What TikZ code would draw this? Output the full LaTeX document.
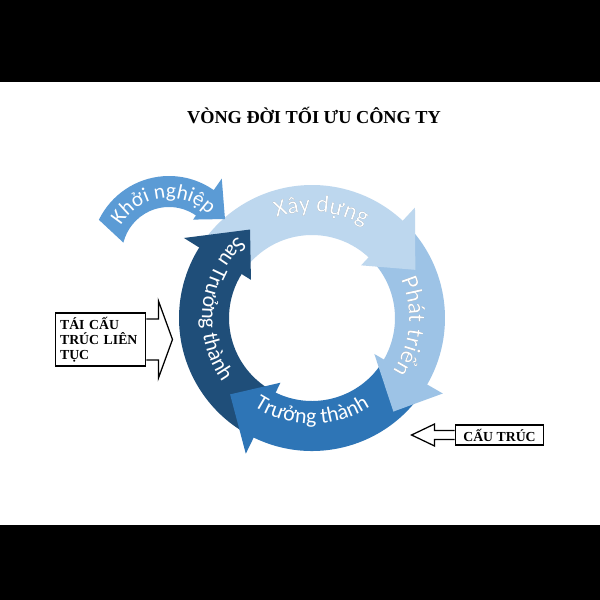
\documentclass[tikz,border=0pt]{standalone}
\usepackage{fontspec}
\setmainfont{Liberation Serif}
\newfontfamily\arcfont{Carlito}
\usetikzlibrary{calc,decorations.text}
\definecolor{cbuild}{HTML}{BDD7EE}
\definecolor{cgrow}{HTML}{9DC3E6}
\definecolor{cmature}{HTML}{2E75B6}
\definecolor{cpost}{HTML}{1F4E79}
\definecolor{cstart}{HTML}{5B9BD5}
\definecolor{rim}{HTML}{6F7F8F}
\tikzset{
  box/.style={draw=black, line width=0.9pt, fill=white, inner sep=0pt,
    font=\bfseries\fontsize{9.8}{10.6}\selectfont},
  barrow/.style={draw=black, line width=0.9pt, fill=white, line join=miter},
  arclbl/.style={decorate, decoration={text along path, text align=center,
    text={|\arcfont\fontsize{\arcsize}{\arcsize}\selectfont\color{#1}|\arctext}}}
}

\begin{document}
\begin{tikzpicture}[x=0.025cm, y=0.025cm]
  \fill[black] (0,0) rectangle (600,600);
  \fill[white] (0,75) rectangle (600,518);
  \coordinate (O) at (312,282);
  \coordinate (K) at (169,346);
  \def\Ro{133}
  \def\Ri{83}

  % ring bodies
  \foreach \c/\s/\b in {cbuild/147/46, cgrow/46/-31, cmature/-31/-117, cpost/-117/-213}
    \fill[fill=\c] ($(O)+(\s:\Ro)$) arc[start angle=\s, end angle=\b, radius=\Ro]
      -- ($(O)+(\b:\Ri)$) arc[start angle=\b, end angle=\s, radius=\Ri] -- cycle;
  % ring heads
  \foreach \c/\b/\t/\r in {cbuild/46/25/114, cgrow/-31/-49/124, cmature/-117/-137/112, cpost/-213/-235/108}
    \fill[fill=\c] ($(O)+(\b+1:151)$) -- ($(O)+(\t:\r)$) -- ($(O)+(\b+1:72)$) -- cycle;

  % start-up arrow
  \fill[cstart] ($(K)+(154:78)$) arc[start angle=154, end angle=55, radius=78]
    -- ($(K)+(55:92)$) -- ($(K)+(32:66)$) -- ($(K)+(55:42)$)
    -- ($(K)+(55:47)$) arc[start angle=55, end angle=166, radius=47] -- cycle;

  % labels on the ring
  \def\arcsize{17}
  \def\arctext{Xây dựng}
  \path[arclbl=rim, shift={(0.9,-0.9)}] ($(O)+(130:106)$) arc[start angle=130, end angle=40, radius=106];
  \path[arclbl=white] ($(O)+(130:106)$) arc[start angle=130, end angle=40, radius=106];
  \def\arctext{Phát triển}
  \path[arclbl=rim, shift={(0.9,-0.9)}] ($(O)+(42:97)$) arc[start angle=42, end angle=-52, radius=97];
  \path[arclbl=white] ($(O)+(42:97)$) arc[start angle=42, end angle=-52, radius=97];
  \def\arcsize{15.5}
  \def\arctext{Trưởng thành}
  \path[arclbl=white] ($(O)+(-145:106)$) arc[start angle=-145, end angle=-35, radius=106];
  \def\arctext{Sau Trưởng thành}
  \path[arclbl=white] ($(O)+(99:110)$) arc[start angle=99, end angle=249, radius=110];
  \def\arcsize{15}
  \def\arctext{Khởi nghiệp}
  \path[arclbl=white] ($(K)+(160:56)$) arc[start angle=160, end angle=34, radius=56];

  \node[font=\bfseries\fontsize{13}{15}\selectfont] (title) at (314,484) {VÒNG ĐỜI TỐI ƯU CÔNG TY};

  \node[box, text width=57.5pt, minimum height=37.6pt, inner xsep=3.5pt, align=left] (restr) at (100.5,260.5) {TÁI CẤU\\TRÚC LIÊN\\TỤC};
  \draw[barrow] ($(restr.east)+(0,20.5)$) -- ++(12,0) -- ++(0,18) -- ($(restr.east)+(26,0)$)
    -- ($(restr.east)+(12,-38.5)$) -- ++(0,18) -- ($(restr.east)+(0,-20.5)$);

  \node[box, minimum width=63pt, minimum height=14.2pt] (struct) at (499.5,165) {CẤU TRÚC};
  \draw[barrow] ($(struct.west)+(0,4.5)$) -- ++(-20,0) -- ++(0,6.5) -- ($(struct.west)+(-43,0)$)
    -- ($(struct.west)+(-20,-11)$) -- ++(0,6.5) -- ($(struct.west)+(0,-4.5)$);
\end{tikzpicture}
\end{document}
